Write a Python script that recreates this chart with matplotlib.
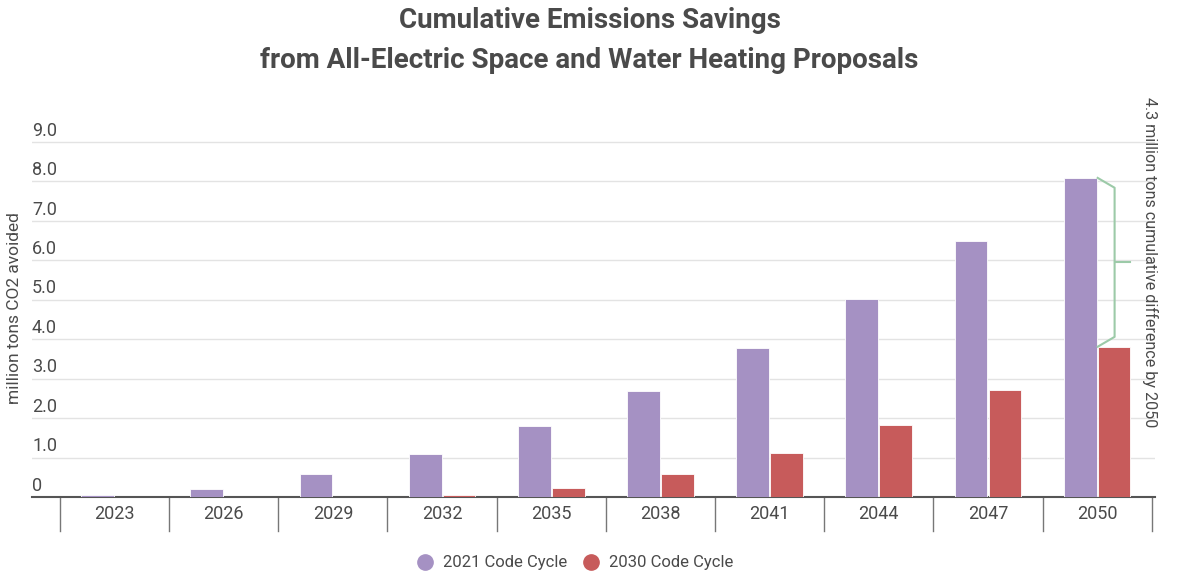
import numpy as np
import matplotlib.pyplot as plt
from matplotlib.lines import Line2D

years = ['2023', '2026', '2029', '2032', '2035', '2038', '2041', '2044', '2047', '2050']
cycle_2021 = [0.05, 0.2, 0.58, 1.09, 1.8, 2.7, 3.79, 5.03, 6.48, 8.09]
cycle_2030 = [0.0, 0.0, 0.0, 0.05, 0.23, 0.58, 1.12, 1.83, 2.72, 3.81]
yticks = [0, 1, 2, 3, 4, 5, 6, 7, 8, 9]
ytick_labels = ['0', '1.0', '2.0', '3.0', '4.0', '5.0', '6.0', '7.0', '8.0', '9.0']

purple = '#a591c3'
red = '#c75b5b'
green = '#9ccaa8'
text_color = '#4a4a4a'

plt.rcParams['font.family'] = ['Roboto', 'DejaVu Sans']

fig = plt.figure(figsize=(11.79, 5.78), dpi=100)
ax = fig.add_axes([32 / 1179, 1 - 497 / 578, (1155 - 32) / 1179, (497 - 142) / 578 * 10 / 9])

x = np.arange(len(years))
w = 0.3
ax.bar(x - 0.155, cycle_2021, w, color=purple, edgecolor='white', linewidth=0.6, zorder=3)
ax.bar(x + 0.155, cycle_2030, w, color=red, edgecolor='white', linewidth=0.6, zorder=3)

ax.set_xlim(-0.756, 9.53)
ax.set_ylim(0, 10)
ax.set_yticks(yticks)
ax.set_yticklabels([])
for v, lab in zip(yticks, ytick_labels):
    ax.text(0.0, v + 0.06, lab, transform=ax.get_yaxis_transform(), ha='left', va='bottom',
            fontsize=13, color=text_color)
ax.grid(axis='y', color='#e3e3e3', linewidth=1, zorder=0)
ax.tick_params(axis='y', length=0)
for s in ['top', 'right', 'left']:
    ax.spines[s].set_visible(False)
ax.spines['bottom'].set_color('#555555')
ax.spines['bottom'].set_linewidth(1.5)

# category separators and labels
ax.set_xticks([])
for i in range(len(years) + 1):
    ax.plot([i - 0.5, i - 0.5], [0, -0.85], color='#777777', linewidth=1, clip_on=False)
for i, yr in enumerate(years):
    ax.text(i, -0.42, yr, ha='center', va='center', fontsize=13, color=text_color)

fig.text(15 / 1179, 1 - 308 / 578, 'million tons CO2 avoided', rotation=90, ha='center', va='center',
         fontsize=12.5, color=text_color)

# bracket showing difference in 2050
top = cycle_2021[-1]
bot = cycle_2030[-1]
mid = (top + bot) / 2
bx0 = 9 + 0.005
bx1 = 9 + 0.16
ax.plot([bx0, bx1, bx1, bx0], [top, top - 0.25, bot + 0.25, bot], color=green, linewidth=1.5, zorder=4, clip_on=False)
ax.plot([bx1, bx1 + 0.14], [mid, mid], color=green, linewidth=1.5, zorder=4, clip_on=False)
fig.text(1150 / 1179, 1 - 97 / 578, '4.3 million tons cumulative difference by 2050', rotation=-90,
         ha='center', va='top', fontsize=11.6, color=text_color)

fig.text(0.5, 1 - 20 / 578, 'Cumulative Emissions Savings', ha='center', va='center',
         fontsize=20, fontweight='bold', color=text_color)
fig.text(0.5, 1 - 60 / 578, 'from All-Electric Space and Water Heating Proposals', ha='center', va='center',
         fontsize=20, fontweight='bold', color=text_color)

handles = [Line2D([], [], marker='o', linestyle='', markersize=11, color=purple),
           Line2D([], [], marker='o', linestyle='', markersize=11, color=red)]
leg = fig.legend(handles, ['2021 Code Cycle', '2030 Code Cycle'], loc='center',
                 bbox_to_anchor=(575 / 1179, 1 - 563 / 578),
                 ncol=2, frameon=False, fontsize=12, handlelength=1.0,
                 handletextpad=0.6, columnspacing=0.9)
for t in leg.get_texts():
    t.set_color(text_color)

fig.savefig('out.png', dpi=100)
